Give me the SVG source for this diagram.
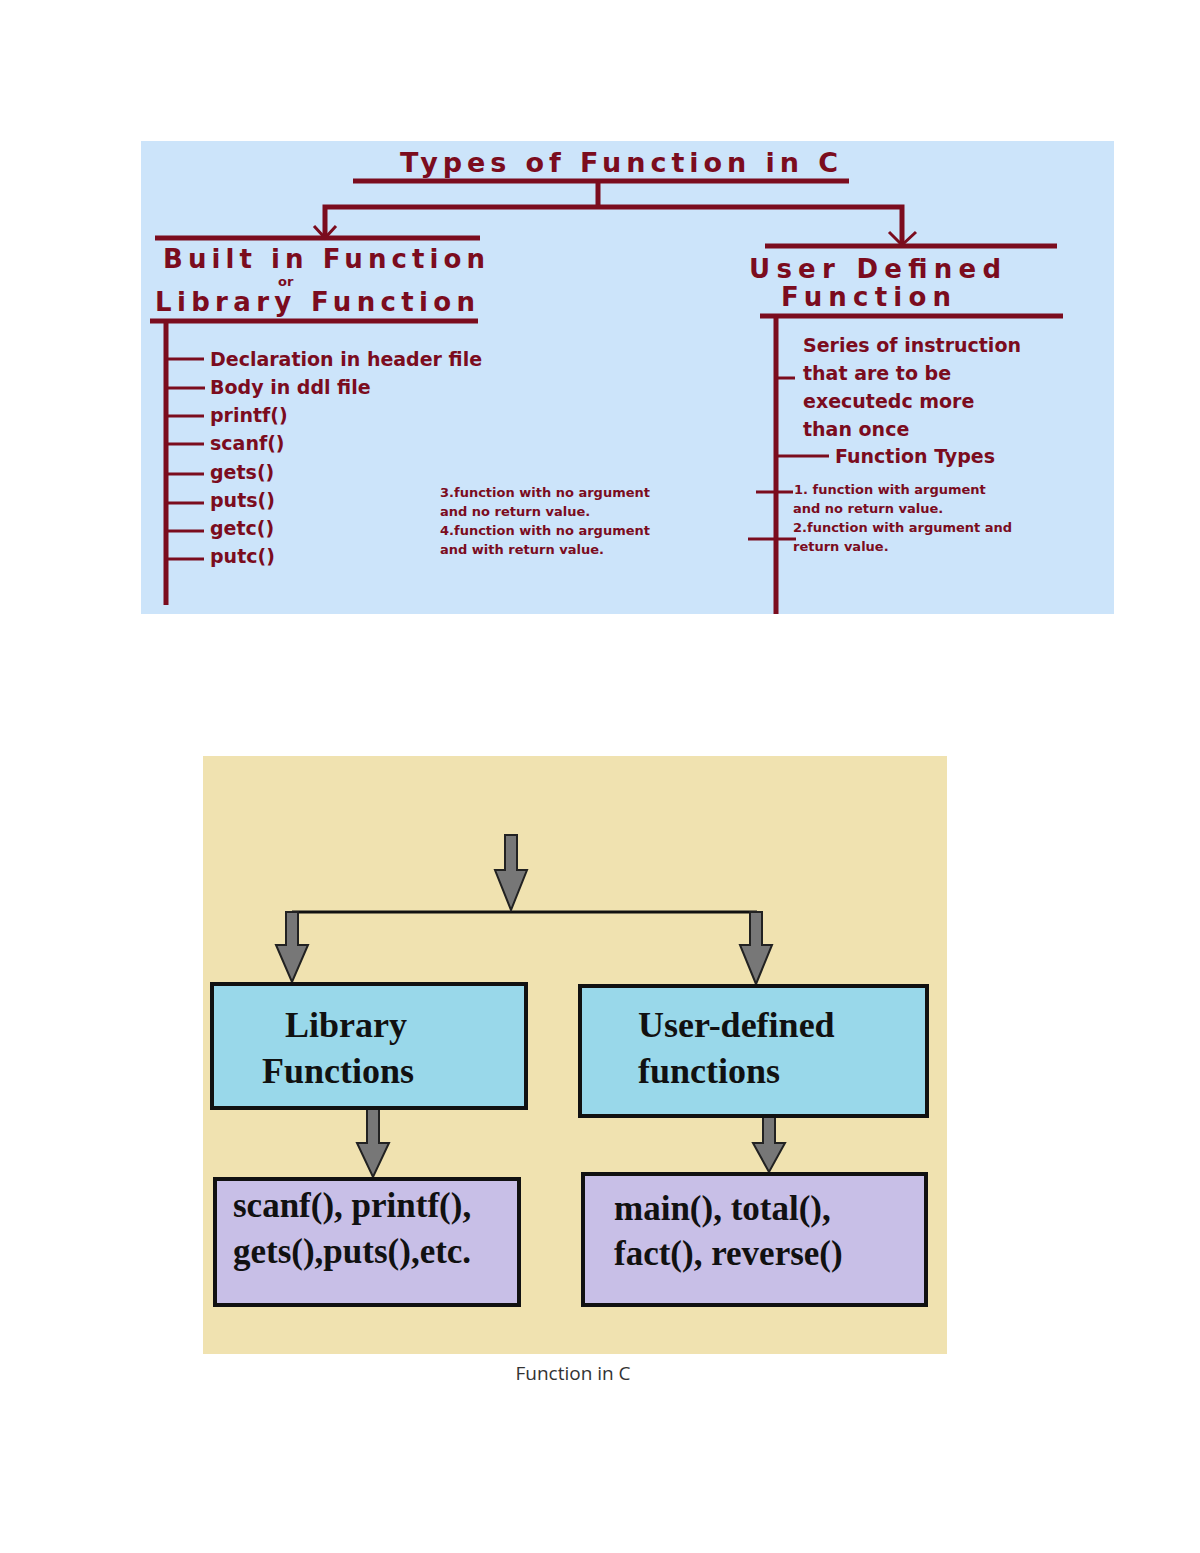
<svg xmlns="http://www.w3.org/2000/svg" width="1200" height="1553" viewBox="0 0 1200 1553">
<style>
.r{fill:#7b0c1e;font-family:"DejaVu Sans",sans-serif;font-weight:bold}
.ln{stroke:#7b0c1e;stroke-width:5;fill:none}
.ln3{stroke:#7b0c1e;stroke-width:3;fill:none}
.t{font-family:"Liberation Serif",serif;font-weight:bold;fill:#111}
.ba{fill:#777;stroke:#222;stroke-width:2}
</style>
<rect width="1200" height="1553" fill="#fff"/>
<rect x="141" y="141" width="973" height="473" fill="#cce4fa"/>
<g id="connectors-top">
<line class="ln" x1="353" y1="181" x2="849" y2="181"/>
<line class="ln" x1="598" y1="181" x2="598" y2="207"/>
<polyline class="ln" points="325,236 325,207 902,207 902,243"/>
<polyline class="ln3" points="314,226 325,238 336,226"/>
<polyline class="ln3" points="889,232 902,245 916,232"/>
<line class="ln" x1="155" y1="238" x2="480" y2="238"/>
<line class="ln" x1="765" y1="246" x2="1057" y2="246"/>
<line class="ln" x1="150" y1="321" x2="478" y2="321"/>
<line class="ln" x1="760" y1="316" x2="1063" y2="316"/>
<line class="ln" x1="166" y1="321" x2="166" y2="605"/>
<line class="ln" x1="776" y1="316" x2="776" y2="614"/>
<g class="ln3">
<line x1="166" y1="359" x2="204" y2="359"/><line x1="166" y1="388" x2="205" y2="388"/>
<line x1="166" y1="416" x2="204" y2="416"/><line x1="166" y1="444" x2="204" y2="444"/>
<line x1="166" y1="474" x2="204" y2="474"/><line x1="166" y1="503" x2="204" y2="503"/>
<line x1="166" y1="531" x2="204" y2="531"/><line x1="166" y1="559" x2="204" y2="559"/>
<line x1="776" y1="378" x2="795" y2="378"/><line x1="776" y1="456" x2="829" y2="456"/>
<line x1="756" y1="492" x2="793" y2="492"/><line x1="748" y1="539" x2="796" y2="539"/>
</g>
</g>
<g id="top-texts">
<text class="r" x="400" y="172" font-size="27" textLength="438">Types of Function in C</text>
<text class="r" x="163" y="268" font-size="26" textLength="322">Built in Function</text>
<text class="r" x="278" y="286" font-size="13">or</text>
<text class="r" x="155" y="311" font-size="26" textLength="320">Library Function</text>
<text class="r" x="749" y="278" font-size="26" textLength="252">User Defined</text>
<text class="r" x="781" y="306" font-size="26" textLength="170">Function</text>
<text class="r" font-size="19"><tspan x="210" y="366">Declaration in header file</tspan><tspan x="210" y="394">Body in ddl file</tspan><tspan x="210" y="422">printf()</tspan><tspan x="210" y="450">scanf()</tspan><tspan x="210" y="479">gets()</tspan><tspan x="210" y="507">puts()</tspan><tspan x="210" y="535">getc()</tspan><tspan x="210" y="563">putc()</tspan></text>
<text class="r" font-size="19"><tspan x="803" y="352">Series of instruction</tspan><tspan x="803" y="380">that are to be</tspan><tspan x="803" y="408">executedc more</tspan><tspan x="803" y="436">than once</tspan><tspan x="835" y="463">Function Types</tspan></text>
<text class="r" font-size="13"><tspan x="440" y="497">3.function with no argument</tspan><tspan x="440" y="516">and no return value.</tspan><tspan x="440" y="535">4.function with no argument</tspan><tspan x="440" y="554">and with return value.</tspan></text>
<text class="r" font-size="13"><tspan x="794" y="494">1. function with argument</tspan><tspan x="793" y="513">and no return value.</tspan><tspan x="793" y="532">2.function with argument and</tspan><tspan x="793" y="551">return value.</tspan></text>
</g>
<rect x="203" y="756" width="744" height="598" fill="#f0e2b0"/>
<g id="connectors-bottom">
<line x1="292" y1="912" x2="757" y2="912" stroke="#111" stroke-width="3"/>
<path class="ba" d="M505,835 H517 V870 H527 L511,910 L495,870 H505 Z"/>
<path class="ba" d="M286,912 H298 V945 H308 L292,982 L276,945 H286 Z"/>
<path class="ba" d="M750,912 H762 V945 H772 L756,984 L740,945 H750 Z"/>
<path class="ba" d="M367,1108 H379 V1143 H389 L373,1177 L357,1143 H367 Z"/>
<path class="ba" d="M763,1117 H775 V1143 H785 L769,1172 L753,1143 H763 Z"/>
</g>
<g id="lib"><rect x="212" y="984" width="314" height="124" fill="#99d8ea" stroke="#111" stroke-width="4"/>
<text class="t" font-size="36"><tspan x="285" y="1037">Library</tspan><tspan x="262" y="1083">Functions</tspan></text></g>
<g id="user"><rect x="580" y="986" width="347" height="130" fill="#99d8ea" stroke="#111" stroke-width="4"/>
<text class="t" font-size="36"><tspan x="638" y="1037">User-defined</tspan><tspan x="638" y="1083">functions</tspan></text></g>
<g id="libex"><rect x="215" y="1179" width="304" height="126" fill="#c8bfe7" stroke="#111" stroke-width="4"/>
<text class="t" font-size="35"><tspan x="233" y="1217">scanf(), printf(),</tspan><tspan x="233" y="1263">gets(),puts(),etc.</tspan></text></g>
<g id="userex"><rect x="583" y="1174" width="343" height="131" fill="#c8bfe7" stroke="#111" stroke-width="4"/>
<text class="t" font-size="35"><tspan x="614" y="1220">main(), total(),</tspan><tspan x="614" y="1265">fact(), reverse()</tspan></text></g>
<text x="573" y="1380" text-anchor="middle" font-family="Open Sans,sans-serif" font-size="19" fill="#333">Function in C</text>
</svg>
